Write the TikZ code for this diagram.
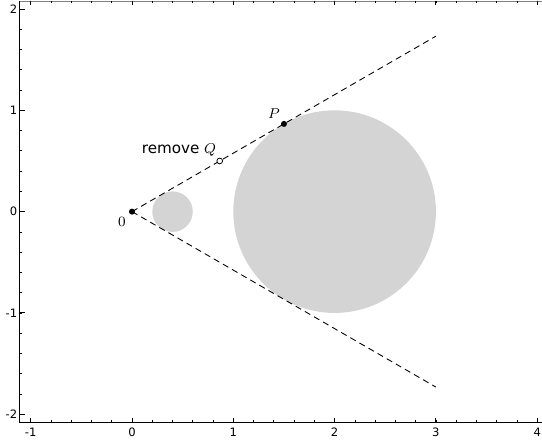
\documentclass[tikz,border=0pt]{standalone}
\usepackage{fontspec}
\setsansfont{DejaVu Sans}
\usetikzlibrary{positioning,calc}

\tikzset{
    ticklabel/.style={font=\sffamily\fontsize{6.5}{7.5}\selectfont, inner sep=0pt},
    lbl/.style={font=\fontsize{8.5}{10}\selectfont, inner sep=0pt},
    disk/.style={fill=black!17},
    tangent/.style={dash pattern=on 3.5pt off 2.4pt, line width=0.5pt},
    dot/.style={circle, fill=black, inner sep=0pt, minimum size=3.4pt},
    hole/.style={circle, draw=black, fill=white, line width=0.45pt, inner sep=0pt, minimum size=3.2pt},
}

\begin{document}
\begin{tikzpicture}[x=2cm, y=2cm]
    \useasboundingbox (-1.303,-2.257) rectangle (4.047,2.089);
    % frame
    \draw[black!50, line width=0.4pt] (-1.106,2.08) -- (4.1,2.08);
    \draw[line width=0.6pt] (-1.106,2.08) -- (-1.106,-2.08) -- (4.1,-2.08);
    % minor ticks
    \foreach \i in {-5,...,20} {
        \draw[line width=0.4pt] (\i/5,-2.08) -- ++(0,0.02);
        \draw[line width=0.4pt] (\i/5,2.08) -- ++(0,-0.02);
    }
    \foreach \i in {-10,...,10}
        \draw[line width=0.4pt] (-1.106,\i/5) -- ++(0.02,0);
    % major ticks and labels
    \foreach \x in {-1,...,4} {
        \draw[line width=0.5pt] (\x,-2.08) -- ++(0,0.045);
        \draw[line width=0.5pt] (\x,2.08) -- ++(0,-0.045);
        \node[ticklabel, anchor=north] at (\x,-2.135) {\x};
    }
    \foreach \y in {-2,...,2} {
        \draw[line width=0.5pt] (-1.106,\y) -- ++(0.045,0);
        \node[ticklabel, anchor=east] at (-1.13,\y) {\y};
    }
    % the two discs
    \fill[disk] (0.4,0) circle (0.2);
    \fill[disk] (2,0) circle (1);
    % tangent lines through the origin
    \coordinate (O) at (0,0);
    \coordinate (upper) at (3,1.732);
    \coordinate (lower) at (3,-1.732);
    \draw[tangent] (O) -- (upper);
    \draw[tangent] (O) -- (lower);
    % marked points
    \node[dot] (origin) at (O) {};
    \node[dot] (P) at (1.5,0.866) {};
    \node[hole] (Q) at (0.866,0.5) {};
    \node[lbl] (zero) at (-0.099,-0.104) {$0$};
    \node[lbl] (Plabel) at (1.402,0.969) {$P$};
    \node[lbl, font=\sffamily\fontsize{8.5}{10}\selectfont] (Qlabel) at (0.464,0.607) {remove $Q$};
\end{tikzpicture}
\end{document}
